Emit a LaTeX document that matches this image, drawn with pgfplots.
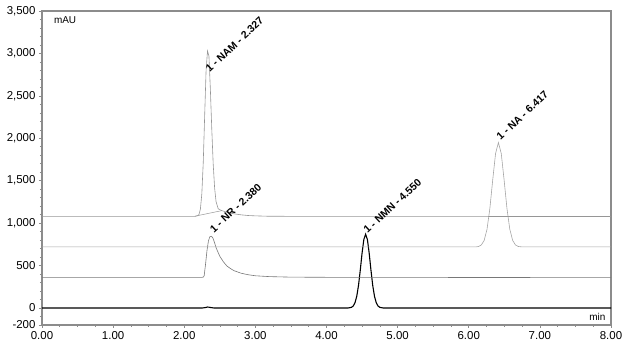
\documentclass[border=0pt]{standalone}
\usepackage{pgfplots}
\pgfplotsset{compat=1.18}
\usepackage{fontspec}
\setmainfont{Liberation Sans}
\definecolor{axgray}{RGB}{140,140,140}
\definecolor{tr1}{RGB}{120,120,120}
\definecolor{tr2}{RGB}{150,150,150}
\definecolor{tr3}{RGB}{165,165,165}
\begin{document}
\begin{tikzpicture}
\path[use as bounding box] (-42bp,-29bp) rectangle (583bp,325bp);
\begin{axis}[
  scale only axis,
  width=569bp, height=314bp,
  xmin=0, xmax=8, ymin=-200, ymax=3500,
  xtick={0,1,...,8},
  ytick={-200,0,500,1000,1500,2000,2500,3000,3500},
  minor xtick={0,0.25,...,8},
  minor ytick={-100,0,...,3400},
  tick align=outside,
  major tick length=3bp, minor tick length=2bp,
  tick style={axgray, line width=0.6pt},
  axis line style={axgray, line width=1.4pt},
  xtick pos=bottom, ytick pos=left,
  /pgf/number format/assume math mode=true,
  xticklabel style={font=\fontsize{11.5}{12}\selectfont, /pgf/number format/.cd, fixed, fixed zerofill, precision=2},
  yticklabel style={font=\fontsize{11.5}{12}\selectfont, /pgf/number format/.cd, 1000 sep={,}},
  xlabel={}, ylabel={},
  clip=false,
]
% NMN trace (black), baseline 0
\addplot[black, line width=1.1pt] coordinates {
(0,0)(2.25,0)(2.30,6)(2.33,12)(2.37,6)(2.42,0)(4.30,0)(4.35,8)(4.375,23)(4.40,61)(4.425,137)(4.45,266)(4.475,447)(4.50,647)(4.525,808)(4.55,870)(4.575,808)(4.60,647)(4.625,447)(4.65,266)(4.675,137)(4.70,61)(4.725,23)(4.75,8)(4.80,0)(8,0)};
% NR trace, baseline ~360
\addplot[tr1, line width=0.6pt] coordinates {
(0,362)(2.25,362)(2.27,366)(2.28,380)(2.30,520)(2.32,680)(2.34,790)(2.36,840)(2.38,846)(2.40,830)(2.42,785)(2.45,705)(2.50,610)(2.55,545)(2.60,495)(2.65,465)(2.70,440)(2.80,410)(2.90,392)(3.00,380)(3.20,370)(3.50,364)(4.00,362)(8,358)};
% NA trace, baseline ~720
\addplot[tr3, line width=0.6pt] coordinates {
(0,720)(6.10,720)(6.137,725)(6.177,743)(6.217,797)(6.257,929)(6.297,1174)(6.337,1510)(6.377,1821)(6.417,1950)(6.457,1821)(6.497,1510)(6.537,1174)(6.577,929)(6.617,797)(6.657,743)(6.697,725)(6.75,720)(8,720)};
% NAM trace, baseline ~1080
\addplot[tr2, line width=0.6pt] coordinates {
(0,1080)(2.15,1080)(2.19,1088)(2.207,1102)(2.227,1166)(2.247,1344)(2.267,1713)(2.287,2264)(2.307,2800)(2.327,3030)(2.347,2970)(2.367,2581)(2.387,2109)(2.407,1697)(2.427,1414)(2.447,1255)(2.477,1170)(2.52,1150)(2.60,1128)(2.70,1110)(2.80,1098)(2.90,1090)(3.00,1086)(3.20,1081)(8,1078)};
% NAM integration baseline
\addplot[tr2, line width=0.5pt] coordinates {(2.15,1082)(2.53,1148)};
% labels
\node[anchor=south west, rotate=43, inner sep=0.5pt, font=\bfseries\fontsize{10.5}{11}\selectfont] at (axis cs:2.36,2760) {1 - NAM - 2.327};
\node[anchor=south west, rotate=43, inner sep=0.5pt, font=\bfseries\fontsize{10.5}{11}\selectfont] at (axis cs:2.42,870) {1 - NR - 2.380};
\node[anchor=south west, rotate=43, inner sep=0.5pt, font=\bfseries\fontsize{10.5}{11}\selectfont] at (axis cs:4.58,860) {1 - NMN - 4.550};
\node[anchor=south west, rotate=43, inner sep=0.5pt, font=\bfseries\fontsize{10.5}{11}\selectfont] at (axis cs:6.45,1960) {1 - NA - 6.417};
\node[anchor=north west, font=\fontsize{10}{11}\selectfont] at (axis cs:0.12,3470) {mAU};
\node[anchor=south east, font=\fontsize{10}{11}\selectfont] at (axis cs:7.97,-190) {min};
\end{axis}
\end{tikzpicture}
\end{document}
